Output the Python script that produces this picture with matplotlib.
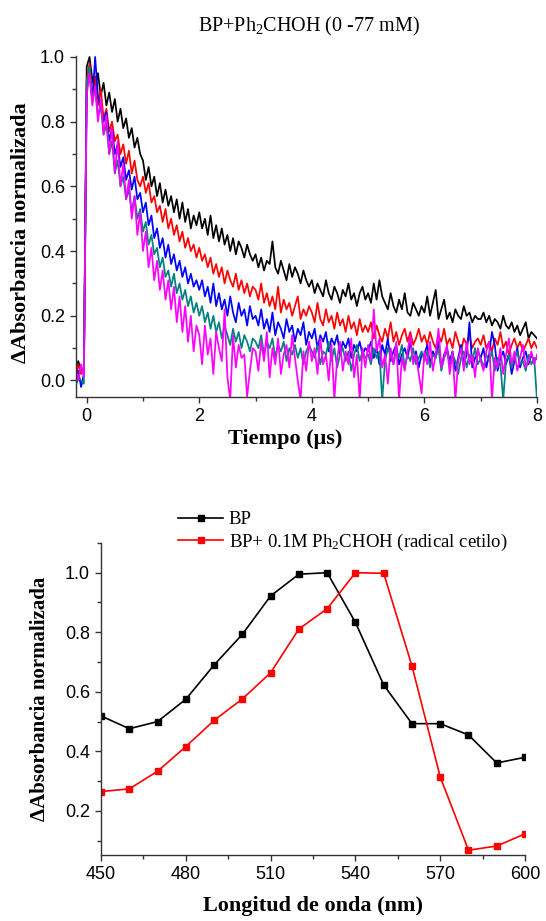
import numpy as np
from matplotlib import pyplot as plt
from matplotlib.ticker import MultipleLocator

plt.rcParams['mathtext.fontset'] = 'custom'
plt.rcParams['mathtext.rm'] = 'Liberation Serif'
plt.rcParams['mathtext.it'] = 'Liberation Serif:italic'
plt.rcParams['mathtext.bf'] = 'Liberation Serif:bold'

# ---- top panel: normalized transient decays, BP + Ph2CHOH (0 - 77 mM)
# time axis of the traces (us), one point every 0.05 us from -0.2 to 8
tiempo = np.round(np.arange(-0.20, 8.001, 0.05), 2)

traza_negra = [0.02, 0.06, 0.03, 0.04,
               0.97, 1.00, 0.93, 0.90, 0.95, 0.88, 0.92, 0.85, 0.89, 0.83, 0.87, 0.80, 0.84, 0.78, 0.81, 0.75, 0.78, 0.72, 0.75, 0.70,
               0.68, 0.62, 0.66, 0.60, 0.63, 0.57, 0.61, 0.55, 0.59, 0.54, 0.57, 0.52, 0.56, 0.50, 0.55, 0.49, 0.53, 0.47, 0.51, 0.48,
               0.52, 0.47, 0.50, 0.45, 0.51, 0.44, 0.48, 0.43, 0.47, 0.42, 0.45, 0.40, 0.44, 0.39, 0.43, 0.41, 0.38, 0.42, 0.39, 0.37,
               0.39, 0.35, 0.38, 0.34, 0.37, 0.36, 0.43, 0.35, 0.33, 0.37, 0.34, 0.31, 0.36, 0.32, 0.35, 0.33, 0.30, 0.34, 0.31, 0.29,
               0.31, 0.27, 0.30, 0.28, 0.26, 0.31, 0.27, 0.25, 0.29, 0.27, 0.24, 0.28, 0.26, 0.30, 0.25, 0.27, 0.23, 0.27, 0.29, 0.25,
               0.27, 0.24, 0.30, 0.25, 0.31, 0.26, 0.24, 0.22, 0.27, 0.23, 0.21, 0.25, 0.22, 0.27, 0.21, 0.20, 0.24, 0.22, 0.20, 0.23,
               0.21, 0.26, 0.20, 0.24, 0.28, 0.19, 0.22, 0.25, 0.19, 0.21, 0.18, 0.22, 0.20, 0.19, 0.23, 0.20, 0.21, 0.18, 0.20, 0.19,
               0.19, 0.21, 0.18, 0.20, 0.17, 0.19, 0.18, 0.16, 0.20, 0.17, 0.16, 0.18, 0.15, 0.17, 0.14, 0.16, 0.18, 0.13, 0.15, 0.14,
               0.13]

traza_roja = [0.00, 0.05, 0.02, 0.03,
              0.93, 0.98, 0.88, 0.94, 0.85, 0.90, 0.81, 0.84, 0.77, 0.80, 0.74, 0.76, 0.70, 0.73, 0.67, 0.71, 0.64, 0.68, 0.62, 0.60,
              0.63, 0.58, 0.61, 0.55, 0.57, 0.52, 0.54, 0.49, 0.53, 0.47, 0.50, 0.45, 0.48, 0.43, 0.46, 0.41, 0.44, 0.40, 0.42, 0.38,
              0.41, 0.37, 0.39, 0.35, 0.38, 0.33, 0.36, 0.32, 0.35, 0.30, 0.34, 0.31, 0.29, 0.33, 0.28, 0.31, 0.27, 0.30, 0.26, 0.29,
              0.28, 0.25, 0.30, 0.24, 0.27, 0.23, 0.26, 0.22, 0.29, 0.21, 0.25, 0.22, 0.24, 0.20, 0.23, 0.26, 0.19, 0.22, 0.20, 0.23,
              0.21, 0.18, 0.24, 0.19, 0.17, 0.22, 0.18, 0.20, 0.16, 0.21, 0.17, 0.19, 0.15, 0.20, 0.16, 0.18, 0.14, 0.19, 0.15, 0.17,
              0.15, 0.18, 0.13, 0.17, 0.14, 0.12, 0.16, 0.13, 0.18, 0.12, 0.15, 0.11, 0.14, 0.16, 0.12, 0.15, 0.11, 0.13, 0.16, 0.12,
              0.14, 0.11, 0.15, 0.12, 0.10, 0.14, 0.12, 0.16, 0.11, 0.13, 0.10, 0.15, 0.12, 0.09, 0.13, 0.11, 0.14, 0.10, 0.12, 0.13,
              0.11, 0.14, 0.10, 0.12, 0.09, 0.13, 0.11, 0.15, 0.10, 0.12, 0.08, 0.11, 0.13, 0.10, 0.12, 0.09, 0.11, 0.13, 0.10, 0.12,
              0.10]

traza_azul = [0.01, 0.03, -0.02, 0.02,
              0.90, 0.95, 0.86, 1.00, 0.88, 0.84, 0.80, 0.83, 0.74, 0.78, 0.70, 0.73, 0.66, 0.69, 0.62, 0.65, 0.59, 0.63, 0.56, 0.58,
              0.52, 0.55, 0.48, 0.51, 0.44, 0.47, 0.41, 0.44, 0.38, 0.42, 0.36, 0.39, 0.34, 0.37, 0.32, 0.35, 0.30, 0.33, 0.29, 0.31,
              0.28, 0.31, 0.26, 0.29, 0.24, 0.30, 0.23, 0.27, 0.22, 0.25, 0.20, 0.26, 0.21, 0.18, 0.24, 0.20, 0.22, 0.17, 0.23, 0.19,
              0.20, 0.17, 0.22, 0.16, 0.19, 0.15, 0.21, 0.14, 0.18, 0.16, 0.13, 0.19, 0.15, 0.17, 0.12, 0.16, 0.14, 0.18, 0.11, 0.15,
              0.13, 0.16, 0.10, 0.14, 0.12, 0.15, 0.09, 0.13, 0.11, 0.14, 0.08, 0.12, 0.10, 0.13, 0.07, 0.11, 0.09, 0.12, 0.08, 0.10,
              0.09, 0.12, 0.07, 0.10, 0.05, 0.11, 0.08, 0.13, 0.06, 0.09, 0.11, 0.05, 0.08, 0.10, 0.07, 0.12, 0.06, 0.09, 0.04, 0.08,
              0.08, 0.11, 0.05, 0.09, 0.07, 0.12, 0.04, 0.08, 0.10, 0.06, 0.09, 0.03, 0.07, 0.11, 0.05, 0.08, 0.18, 0.04, 0.07, 0.09,
              0.07, 0.10, 0.04, 0.08, 0.15, 0.11, 0.03, 0.07, 0.09, 0.05, 0.08, 0.02, 0.06, 0.10, 0.04, 0.07, 0.09, 0.05, 0.08, 0.06,
              0.07]

traza_verde = [-0.02, 0.01, 0.00, -0.01,
               0.92, 0.97, 0.87, 0.90, 0.82, 0.85, 0.76, 0.79, 0.70, 0.74, 0.64, 0.68, 0.60, 0.63, 0.56, 0.59, 0.52, 0.57, 0.50, 0.53,
               0.46, 0.49, 0.42, 0.45, 0.39, 0.41, 0.35, 0.38, 0.32, 0.34, 0.29, 0.33, 0.27, 0.30, 0.25, 0.28, 0.23, 0.26, 0.21, 0.24,
               0.20, 0.23, 0.18, 0.21, 0.16, 0.20, 0.15, 0.18, 0.13, 0.17, 0.14, 0.11, 0.16, 0.12, 0.15, 0.10, 0.14, 0.12, 0.09, 0.13,
               0.12, 0.10, 0.14, 0.08, 0.12, 0.10, 0.13, 0.07, 0.11, 0.09, 0.12, 0.06, 0.10, 0.08, 0.11, 0.07, 0.10, 0.05, 0.09, 0.11,
               0.09, 0.07, 0.11, 0.05, 0.09, 0.08, 0.12, 0.06, 0.10, 0.04, 0.08, 0.10, 0.06, 0.09, 0.03, 0.08, 0.11, 0.06, 0.09, 0.07,
               0.08, 0.05, 0.10, 0.07, 0.09, -0.06, 0.06, 0.10, 0.08, 0.05, 0.09, 0.07, 0.11, 0.04, 0.08, 0.06, 0.10, 0.05, 0.07, 0.09,
               0.06, 0.09, 0.04, 0.08, 0.07, 0.10, 0.03, 0.07, 0.09, 0.05, 0.08, 0.06, 0.02, 0.07, 0.09, 0.04, 0.08, 0.06, 0.10, 0.05,
               0.07, 0.04, 0.08, 0.06, 0.09, 0.03, 0.07, 0.05, -0.06, 0.06, 0.08, 0.04, 0.07, 0.09, 0.05, 0.06, 0.03, 0.08, 0.05, 0.07,
               -0.06]

traza_magenta = [0.04, 0.00, 0.05, 0.01,
                 0.88, 0.95, 0.85, 0.91, 0.80, 0.87, 0.76, 0.82, 0.70, 0.78, 0.64, 0.74, 0.60, 0.67, 0.56, 0.62, 0.50, 0.57, 0.45, 0.52,
                 0.40, 0.46, 0.35, 0.41, 0.31, 0.37, 0.28, 0.34, 0.25, 0.31, 0.22, 0.29, 0.18, 0.26, 0.15, 0.23, 0.12, 0.20, 0.09, 0.17,
                 0.14, 0.05, 0.17, 0.08, 0.13, 0.02, 0.15, 0.10, 0.06, 0.22, 0.01, -0.06, 0.14, 0.04, 0.11, 0.07, 0.08, -0.05, 0.03, 0.10,
                 0.09, 0.03, 0.12, 0.06, 0.15, 0.01, 0.10, 0.05, 0.13, 0.02, 0.08, 0.11, 0.04, 0.14, 0.07, 0.00, -0.06, 0.09, 0.03, 0.12,
                 0.06, 0.10, 0.02, 0.13, 0.05, 0.08, 0.00, 0.11, -0.06, 0.07, 0.12, 0.03, 0.09, 0.05, 0.13, 0.01, 0.08, -0.06, 0.10, 0.04,
                 0.11, 0.06, 0.22, 0.09, 0.13, 0.04, 0.08, -0.01, 0.10, 0.05, 0.12, -0.06, 0.07, 0.03, 0.09, 0.14, 0.05, 0.08, 0.02, -0.04,
                 0.09, 0.05, 0.12, 0.03, 0.08, 0.16, 0.04, 0.07, 0.11, 0.02, 0.09, -0.06, 0.06, 0.10, 0.03, 0.12, 0.05, 0.08, 0.01, 0.10,
                 0.06, 0.03, 0.09, 0.12, -0.06, 0.07, 0.04, 0.10, 0.02, 0.08, 0.13, 0.05, 0.09, 0.03, 0.07, 0.11, 0.04, 0.06, 0.09, 0.05,
                 0.08]

trazas = [traza_negra, traza_roja, traza_azul, traza_verde, traza_magenta]
colores_trazas = ['black', '#ff0000', '#0000ff', '#008080', '#ff00ff']

# ---- bottom panel: transient spectra
longitud_onda = [450, 460, 470, 480, 490, 500, 510, 520, 530, 540, 550, 560, 570, 580, 590, 600]
espectro_bp = [0.519, 0.476, 0.50, 0.575, 0.69, 0.793, 0.922, 0.995, 1.0, 0.833, 0.623, 0.493, 0.493, 0.455, 0.361, 0.38]
espectro_cetilo = [0.265, 0.274, 0.333, 0.416, 0.504, 0.576, 0.664, 0.811, 0.879, 1.0, 0.998, 0.687, 0.314, 0.068, 0.082, 0.123]

SERIF = 'Liberation Serif'
SANS = 'Liberation Sans'


def estilo_ejes(ax):
    for lado in ['top', 'right']:
        ax.spines[lado].set_visible(False)
    for lado in ['left', 'bottom']:
        ax.spines[lado].set_linewidth(1.0)
        ax.spines[lado].set_color('#333333')
    ax.tick_params(which='major', direction='out', length=4.5, width=1.0, color='#333333', labelsize=13)
    ax.tick_params(which='minor', direction='out', length=3, width=1.0, color='#333333')
    for lab in ax.get_xticklabels() + ax.get_yticklabels():
        lab.set_fontfamily(SANS)


fig = plt.figure(figsize=(5.46, 9.21), dpi=100)

# top panel
ax1 = fig.add_axes([0.1392, 0.5693, 0.8443, 0.3699])
for traza, color in zip(trazas, colores_trazas):
    ax1.plot(tiempo, traza, color=color, lw=1.25)
ax1.set_xlim(-0.19, 8.0)
ax1.set_ylim(-0.05, 1.003)
ax1.xaxis.set_major_locator(MultipleLocator(2))
ax1.xaxis.set_minor_locator(MultipleLocator(1))
ax1.set_yticks([0.0, 0.2, 0.4, 0.6, 0.8, 1.0])
ax1.set_yticklabels(['0.0', '0.2', '0.4', '0.6', '0.8', '1.0'])
ax1.yaxis.set_minor_locator(MultipleLocator(0.1))
estilo_ejes(ax1)
ax1.set_xlabel('Tiempo (μs)', fontfamily=SERIF, fontweight='bold', fontsize=16)
ax1.set_ylabel('ΔAbsorbancia normalizada', fontfamily=SERIF, fontweight='bold', fontsize=16)
ax1.xaxis.set_label_coords(0.454, -0.095)
ax1.yaxis.set_label_coords(-0.098, 0.48)
fig.text(0.566, 1 - 26 / 921, 'BP+Ph$_2$CHOH (0 -77 mM)', ha='center', va='center',
         fontfamily=SERIF, fontsize=14.5)

# bottom panel
ax2 = fig.add_axes([0.185, 0.0717, 0.7766, 0.3388])
ax2.plot(longitud_onda, espectro_bp, color='black', lw=1.2, marker='s', ms=4.5, label='BP')
ax2.plot(longitud_onda, espectro_cetilo, color='#ff0000', lw=1.2, marker='s', ms=4.5,
         label='BP+ 0.1M Ph$_2$CHOH (radical cetilo)')
ax2.set_xlim(450, 600)
ax2.set_ylim(0.052, 1.10)
ax2.xaxis.set_major_locator(MultipleLocator(30))
ax2.xaxis.set_minor_locator(MultipleLocator(15))
ax2.set_yticks([0.2, 0.4, 0.6, 0.8, 1.0])
ax2.set_yticklabels(['0.2', '0.4', '0.6', '0.8', '1.0'])
ax2.yaxis.set_minor_locator(MultipleLocator(0.1))
estilo_ejes(ax2)
ax2.set_xlabel('Longitud de onda (nm)', fontfamily=SERIF, fontweight='bold', fontsize=16)
ax2.set_ylabel('ΔAbsorbancia normalizada', fontfamily=SERIF, fontweight='bold', fontsize=15)
ax2.xaxis.set_label_coords(0.5, -0.13)
ax2.yaxis.set_label_coords(-0.12, 0.5)
ax2.legend(loc='upper left', bbox_to_anchor=(178 / 546, 1 - 511 / 921), bbox_transform=fig.transFigure,
           frameon=False, prop={'family': SERIF, 'size': 13.5}, handlelength=2.4, handletextpad=0.3,
           borderpad=0, borderaxespad=0, labelspacing=0.2)

fig.savefig('out.png', dpi=100)
